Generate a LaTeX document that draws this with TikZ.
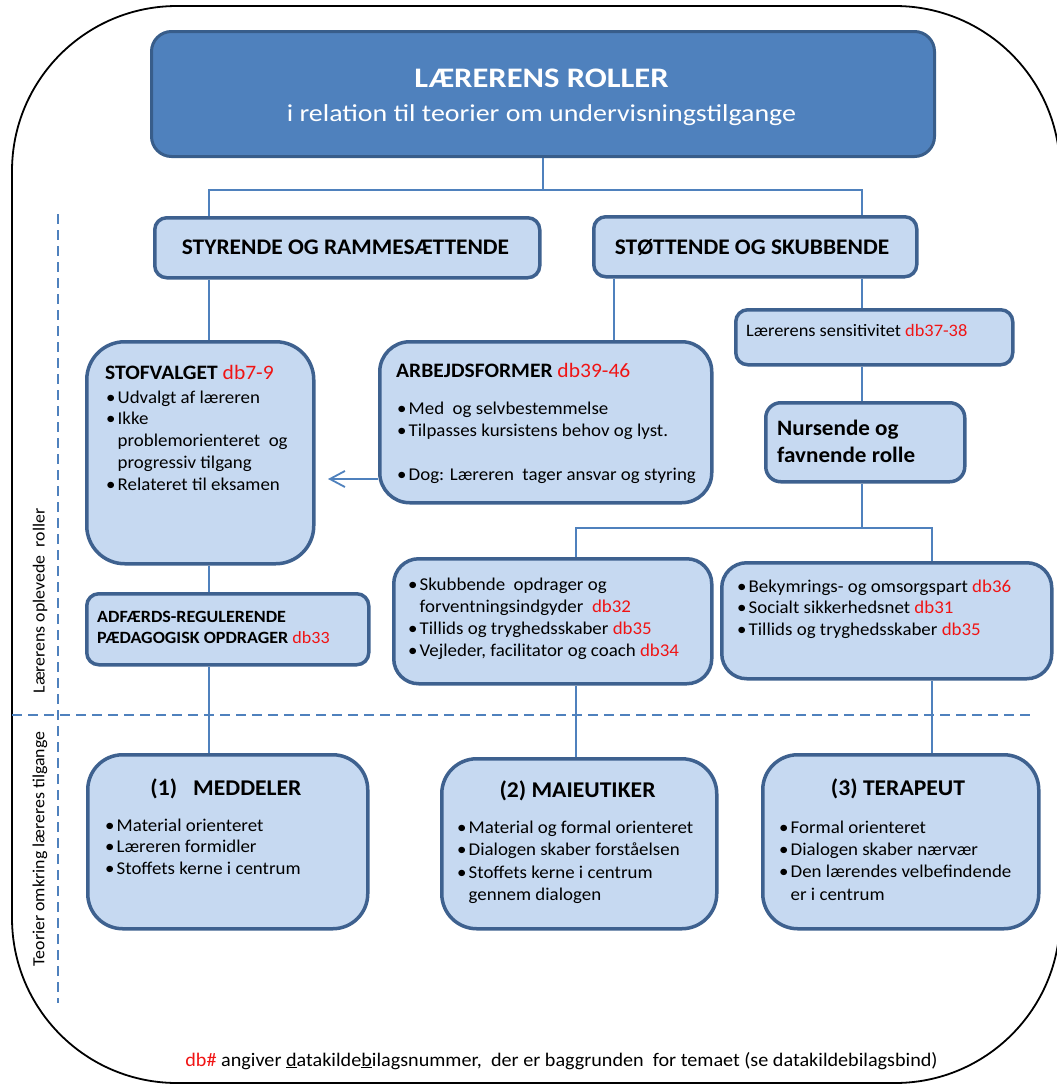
\documentclass[tikz,border=0pt]{standalone}
\usepackage{fontspec}
\setmainfont{Carlito}[FakeStretch=1.05]
\newfontfamily\widefont{Carlito}[FakeStretch=1.15]
\usetikzlibrary{arrows.meta}
\definecolor{dfill}{RGB}{79,129,189}
\definecolor{dborder}{RGB}{56,93,138}
\definecolor{lfill}{RGB}{198,217,241}
\definecolor{lborder}{RGB}{62,97,143}
\definecolor{linec}{RGB}{79,129,189}
\definecolor{dbred}{RGB}{240,20,20}
\newcommand\fsz[2]{\fontsize{#1}{#2}\selectfont}
\newcommand\db[1]{\textcolor{dbred}{\mdseries #1}}
\newcommand\bl{\makebox[11.5pt][l]{\textbullet}}
\newcommand\ind{\hspace*{11.5pt}}
\newcommand\blk[1]{\begin{tabular}[t]{@{}l@{}}#1\end{tabular}}
\begin{document}
\begin{tikzpicture}[x=1pt,y=-1pt,
  lbox/.style={draw=lborder, fill=lfill, line width=3.5pt, anchor=north west, inner sep=0pt},
  tbox/.style={draw=dborder, fill=dfill, line width=3pt, anchor=north west, inner sep=0pt, rounded corners=20pt},
  conn/.style={draw=linec, line width=1.8pt},
  dashline/.style={draw=linec, line width=2.4pt, dash pattern=on 10pt off 6pt},
  txt/.style={anchor=base west, inner sep=0pt, font=\fsz{18}{21.8}},
  hdr/.style={anchor=base west, inner sep=0pt, font=\fsz{20.5}{22}\bfseries},
  btitle/.style={anchor=base, inner sep=0pt, font=\fsz{22.5}{26}\bfseries},
  side/.style={rotate=90, inner sep=0pt, font=\fsz{17}{20}},
]
\useasboundingbox (0,0) rectangle (1057,1084);
% outer frame
\draw[line width=1.8pt, rounded corners=165pt] (12,6) rectangle (1060,1083);
% dashed separators
\draw[dashline] (58,214) -- (58,1003);
\draw[dashline] (12,715) -- (1030,715);
\node[side] (lab1) at (40,601) {Lærerens oplevede\ \ roller};
\node[side] (lab2) at (40,849) {Teorier omkring læreres tilgange};

% helper coordinates
\coordinate (xa) at (209,0);
\coordinate (xb) at (614,0);
\coordinate (xc) at (862,0);
\coordinate (xd) at (576,0);
\coordinate (xe) at (932,0);
\coordinate (hy) at (0,190);
\coordinate (hy2) at (0,528);
\coordinate (arrtip) at (328,479);

% boxes
\node[tbox, minimum width=783pt, minimum height=125pt] (title) at (150,30) {};
\node[lbox, rounded corners=12pt, minimum width=385pt, minimum height=60pt] (styr) at (153,216) {};
\node[lbox, rounded corners=12pt, minimum width=323pt, minimum height=60pt] (stot) at (592,215) {};
\node[lbox, rounded corners=38pt, minimum width=227pt, minimum height=222pt] (stof) at (85,340) {};
\node[lbox, rounded corners=30pt, minimum width=332pt, minimum height=161pt] (arb) at (378,340) {};
\node[lbox, rounded corners=12pt, minimum width=277pt, minimum height=55pt] (sens) at (734,308) {};
\node[lbox, rounded corners=15pt, minimum width=199pt, minimum height=79pt] (nurs) at (764,401) {};
\node[lbox, rounded corners=12pt, minimum width=282pt, minimum height=71pt] (adf) at (85,592) {};
\node[lbox, rounded corners=25pt, minimum width=318pt, minimum height=125pt] (skub) at (392,557) {};
\node[lbox, rounded corners=25pt, minimum width=330pt, minimum height=116pt] (bek) at (720,561) {};
\node[lbox, rounded corners=35pt, minimum width=280pt, minimum height=174pt] (medd) at (86,753) {};
\node[lbox, rounded corners=35pt, minimum width=275pt, minimum height=170pt] (maie) at (440,757) {};
\node[lbox, rounded corners=35pt, minimum width=276pt, minimum height=174pt] (tera) at (761,753) {};

% connectors
\draw[conn] (title.south) -- (title.south |- hy);
\draw[conn] (title.south |- hy) -| (styr.north -| xa);
\draw[conn] (title.south |- hy) -| (stot.north -| xc);
\draw[conn] (styr.south -| xa) -- (stof.north -| xa);
\draw[conn] (stot.south -| xb) -- (arb.north -| xb);
\draw[conn] (stot.south -| xc) -- (sens.north -| xc);
\draw[conn] (sens.south -| xc) -- (nurs.north -| xc);
\draw[conn] (nurs.south -| xc) -- (xc |- hy2);
\draw[conn] (xc |- hy2) -| (skub.north -| xd);
\draw[conn] (xc |- hy2) -| (bek.north -| xe);
\draw[conn] (stof.south -| xa) -- (adf.north -| xa);
\draw[conn] (adf.south -| xa) -- (medd.north -| xa);
\draw[conn] (skub.south -| xd) -- (maie.north -| xd);
\draw[conn] (bek.south -| xe) -- (tera.north -| xe);
\draw[conn, -{Straight Barb[length=15pt, width=16pt, line width=1.8pt]}] (arb.west |- arrtip) -- (arrtip);

% texts
\node[anchor=base, inner sep=0pt, text=white, font=\widefont\fsz{28.3}{30}\bfseries] (t1) at (541.5,87) {LÆRERENS ROLLER};
\node[anchor=base, inner sep=0pt, text=white, font=\widefont\fsz{24.3}{26}] (t2) at (541.5,121) {i relation til teorier om undervisningstilgange};
\node[anchor=base, inner sep=0pt, font=\fsz{22.3}{24}\bfseries] (styrt) at (345.5,254) {STYRENDE OG RAMMESÆTTENDE};
\node[anchor=base, inner sep=0pt, font=\fsz{22.3}{24}\bfseries] (stott) at (752,254) {STØTTENDE OG SKUBBENDE};

\node[hdr] (stofh) at (105,379) {STOFVALGET \db{db7-9}};
\node[txt] (stofb) at (106,403) {\blk{\bl Udvalgt af læreren\\ \bl Ikke\\ \ind problemorienteret\ \ og\\ \ind progressiv tilgang\\ \bl Relateret til eksamen}};

\node[hdr] (arbh) at (396,377) {ARBEJDSFORMER \db{db39-46}};
\node[txt, font=\fsz{18}{22.2}] (arbb) at (397,414) {\blk{\bl Med\ \ og selvbestemmelse\\ \bl Tilpasses kursistens behov og lyst.\\ \\ \bl Dog: Læreren\ \ tager ansvar og styring}};

\node[txt, font=\fsz{17.5}{21}] (senst) at (746,336) {Lærerens sensitivitet \db{db37-38}};
\node[txt, font=\fsz{22}{27}\bfseries] (nurst) at (777,435) {\blk{Nursende og\\ favnende rolle}};

\node[txt, font=\fsz{17.2}{21}\bfseries] (adft) at (97,622) {\blk{ADFÆRDS-REGULERENDE\\ PÆDAGOGISK OPDRAGER \db{db33}}};

\node[txt, font=\fsz{18}{22}] (skubt) at (408,590) {\blk{\bl Skubbende\ \ opdrager og\\ \ind forventningsindgyder\ \ \db{db32}\\ \bl Tillids og tryghedsskaber \db{db35}\\ \bl Vejleder, facilitator og coach \db{db34}}};
\node[txt, font=\fsz{18}{21.7}] (bekt) at (737,592) {\blk{\bl Bekymrings- og omsorgspart \db{db36}\\ \bl Socialt sikkerhedsnet \db{db31}\\ \bl Tillids og tryghedsskaber \db{db35}}};

\node[btitle] (meddh) at (226,795) {(1)\ \ \ MEDDELER};
\node[txt, font=\fsz{18}{21.8}] (meddb) at (105,831) {\blk{\bl Material orienteret\\ \bl Læreren formidler\\ \bl Stoffets kerne i centrum}};
\node[btitle] (maieh) at (577.5,797) {(2) MAIEUTIKER};
\node[txt, font=\fsz{18}{22.6}] (maieb) at (457,833) {\blk{\bl Material og formal orienteret\\ \bl Dialogen skaber forståelsen\\ \bl Stoffets kerne i centrum\\ \ind gennem dialogen}};
\node[btitle] (terah) at (898,795) {(3) TERAPEUT};
\node[txt, font=\fsz{18}{22.4}] (terab) at (779,833) {\blk{\bl Formal orienteret\\ \bl Dialogen skaber nærvær\\ \bl Den lærendes velbefindende\\ \ind er i centrum}};

\node[anchor=base, inner sep=0pt, font=\fsz{19.2}{22}] (foot) at (561.5,1066) {\db{db\#} angiver \underline{d}atakilde\underline{b}ilagsnummer,\ \ der er baggrunden\ \ for temaet (se datakildebilagsbind)};
\end{tikzpicture}
\end{document}
